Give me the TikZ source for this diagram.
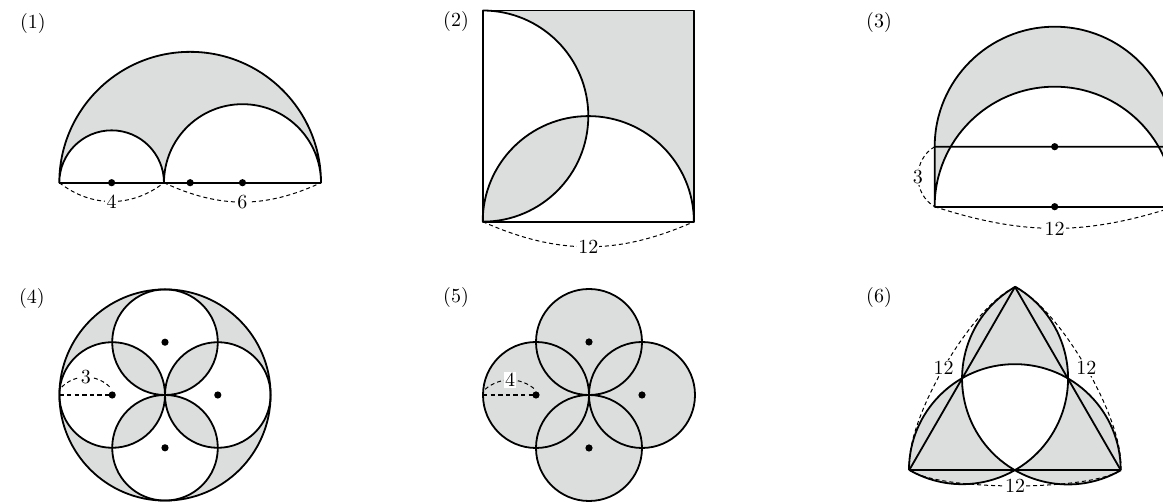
\documentclass[tikz,border=0pt]{standalone}
\usepackage{tikz}
\definecolor{shadegray}{HTML}{DCDDDD}
\tikzset{
  outline/.style={draw=black,line width=0.9pt,line join=round},
  measure/.style={draw=black,line width=0.5pt,dash pattern=on 2pt off 1.5pt},
  radiusline/.style={draw=black,line width=0.8pt,dash pattern=on 2.2pt off 1.6pt},
  dimlabel/.style={fill=white,inner sep=0.6pt,font=\normalsize},
  tag/.style={inner sep=0pt,font=\normalsize}
}

\begin{document}
\begin{tikzpicture}[
  x=0.5pt,y=0.5pt,
  centerdot/.style={circle,fill=black,inner sep=0pt,minimum size=3.6pt},
  shaded/.style={fill=shadegray}
]
  \useasboundingbox (0,0) rectangle (1163,502);
  \node[tag] (tag1) at (33,478) {(1)};
  \node[tag] (tag2) at (456,480) {(2)};
  \node[tag] (tag3) at (879,479) {(3)};
  \node[tag] (tag4) at (32,203) {(4)};
  \node[tag] (tag5) at (456,204) {(5)};
  \node[tag] (tag6) at (879,204) {(6)};

  % (1)
  \begin{scope}[shift={(59.3,319.3)},scale=26.17]
    \coordinate (left1) at (0,0);
    \coordinate (mid1) at (4,0);
    \coordinate (right1) at (10,0);
    \filldraw[outline,shaded] (left1) arc[start angle=180,end angle=0,radius=5]
      arc[start angle=0,end angle=180,radius=3]
      arc[start angle=0,end angle=180,radius=2] -- cycle;
    \draw[outline] (left1) -- (right1);
    \foreach \x in {2,5,7}
      \node[centerdot] (dot1-\x) at (\x,0) {};
    \draw[measure] (left1) to[bend right=38] node[dimlabel] {4} (mid1);
    \draw[measure] (mid1) to[bend right=25] node[dimlabel] {6} (right1);
  \end{scope}

  % (2)
  \begin{scope}[shift={(482.7,280.3)},scale=17.6]
    \coordinate (left2) at (0,0);
    \coordinate (right2) at (12,0);
    \fill[shadegray,even odd rule] (0,0) rectangle (12,12)
      (0,0) arc[start angle=-90,end angle=90,radius=6] -- cycle
      (0,0) arc[start angle=180,end angle=0,radius=6] -- cycle;
    \draw[outline] (0,0) rectangle (12,12);
    \draw[outline] (0,0) arc[start angle=-90,end angle=90,radius=6];
    \draw[outline] (0,0) arc[start angle=180,end angle=0,radius=6];
    \draw[measure] (left2) to[bend right=24] node[dimlabel] {12} (right2);
  \end{scope}

  % (3)
  \begin{scope}[shift={(934.7,295.3)},scale=20]
    \coordinate (low3) at (0,0);
    \coordinate (up3) at (0,3);
    \coordinate (right3) at (12,0);
    \filldraw[outline,shaded] (low3) -- (up3) arc[start angle=180,end angle=0,radius=6]
      -- (right3) arc[start angle=0,end angle=180,radius=6] -- cycle;
    \draw[outline] (up3) -- (12,3);
    \draw[outline] (low3) -- (right3);
    \foreach \y in {0,3}
      \node[centerdot] (dot3-\y) at (6,\y) {};
    \draw[measure] (up3) to[bend right=60,looseness=1.1] node[dimlabel] {3} (low3);
    \draw[measure] (low3) to[bend right=18] node[dimlabel] {12} (right3);
  \end{scope}

  % (4)
  \begin{scope}[shift={(165,107)},scale=17.6]
    \coordinate (rim4) at (-6,0);
    \coordinate (arcA4) at (-5.87,0.45);
    \coordinate (arcB4) at (-3.13,0.45);
    \fill[shadegray,even odd rule] (0,0) circle[radius=6]
      \foreach \a in {0,90,180,270} {(\a:3) circle[radius=3]};
    \draw[outline] (0,0) circle[radius=6];
    \foreach \a in {0,90,180,270} {
      \draw[outline] (\a:3) circle[radius=3];
      \node[centerdot] (dot4-\a) at (\a:3) {};
    }
    \draw[radiusline] (rim4) -- (dot4-180.center);
    \draw[measure] (arcA4) to[bend left=45] node[dimlabel] {3} (arcB4);
  \end{scope}

  % (5)
  \begin{scope}[shift={(589,107)},scale=13.25]
    \coordinate (rim5) at (-8,0);
    \coordinate (arcA5) at (-7.85,0.43);
    \coordinate (arcB5) at (-4.08,0.43);
    \foreach \a in {0,90,180,270}
      \fill[shaded] (\a:4) circle[radius=4];
    \foreach \a in {0,90,180,270} {
      \draw[outline] (\a:4) circle[radius=4];
      \node[centerdot] (dot5-\a) at (\a:4) {};
    }
    \draw[radiusline] (rim5) -- (dot5-180.center);
    \draw[measure] (arcA5) to[bend left=40] node[dimlabel] {4} (arcB5);
  \end{scope}

  % (6)
  \begin{scope}[shift={(909.3,32)},scale=17.64]
    \coordinate (top6) at (6,10.392);
    \coordinate (bl6) at (0,0);
    \coordinate (br6) at (12,0);
    \coordinate (ml6) at (3,5.196);
    \fill[shadegray,even odd rule] (top6)
      arc[start angle=120,end angle=180,radius=6]
      arc[start angle=120,end angle=180,radius=6]
      arc[start angle=240,end angle=300,radius=6]
      arc[start angle=240,end angle=300,radius=6]
      arc[start angle=0,end angle=60,radius=6]
      arc[start angle=0,end angle=60,radius=6] -- cycle
      (ml6) arc[start angle=180,end angle=240,radius=6]
      arc[start angle=300,end angle=360,radius=6]
      arc[start angle=60,end angle=120,radius=6] -- cycle;
    \draw[outline] (bl6) arc[start angle=240,end angle=420,radius=6];
    \draw[outline] (br6) arc[start angle=0,end angle=180,radius=6];
    \draw[outline] (top6) arc[start angle=120,end angle=300,radius=6];
    \draw[outline] (top6) -- (bl6) -- (br6) -- cycle;
    \draw[measure] (bl6) to[bend right=35,looseness=0.45] node[dimlabel] {12} (br6);
    \draw[measure] (br6) to[bend right=35,looseness=0.6] node[dimlabel] {12} (top6);
    \draw[measure] (top6) to[bend right=35,looseness=0.6] node[dimlabel] {12} (bl6);
  \end{scope}
\end{tikzpicture}
\end{document}
